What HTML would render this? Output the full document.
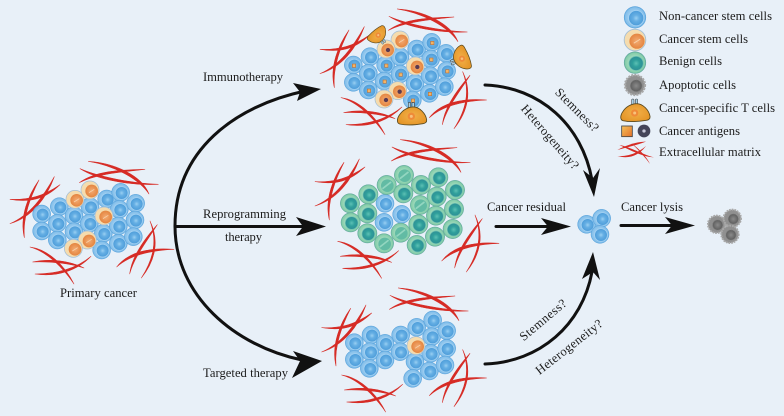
<!DOCTYPE html>
<html><head><meta charset="utf-8"><style>
html,body{margin:0;padding:0;background:#e8f0f8}
svg{display:block;filter:blur(.3px)}
text{font-family:"Liberation Serif",serif;font-size:12.6px;fill:#1c1c1c}
</style></head><body>
<svg width="784" height="416" viewBox="0 0 784 416" xmlns="http://www.w3.org/2000/svg">
<defs>
<radialGradient id="gb" cx=".5" cy=".5" r=".5"><stop offset=".5" stop-color="#a3d0f1"/><stop offset=".9" stop-color="#84bfea"/><stop offset="1" stop-color="#5fa9e0"/></radialGradient>
<radialGradient id="gbi" cx=".5" cy=".5" r=".5"><stop offset="0" stop-color="#9ad0f2"/><stop offset=".4" stop-color="#66afe4"/><stop offset="1" stop-color="#4c9cd9"/></radialGradient>
<radialGradient id="gg" cx=".5" cy=".5" r=".5"><stop offset=".5" stop-color="#a5dcbf"/><stop offset=".9" stop-color="#85cdaa"/><stop offset="1" stop-color="#5fb096"/></radialGradient>
<radialGradient id="ggi" cx=".5" cy=".5" r=".5"><stop offset="0" stop-color="#5cc0b4"/><stop offset=".5" stop-color="#2f9f9b"/><stop offset="1" stop-color="#2f8f96"/></radialGradient>
<radialGradient id="go" cx=".5" cy=".5" r=".5"><stop offset="0" stop-color="#f3ab72"/><stop offset="1" stop-color="#e48540"/></radialGradient>
<radialGradient id="gy" cx=".5" cy=".5" r=".5"><stop offset="0" stop-color="#8a8a8a"/><stop offset="1" stop-color="#5e5e5e"/></radialGradient>
<radialGradient id="gt" cx=".5" cy=".5" r=".6"><stop offset="0" stop-color="#f2b04a"/><stop offset="1" stop-color="#e39324"/></radialGradient>
<linearGradient id="gsq" x1="0" y1="0" x2="1" y2="1"><stop offset="0" stop-color="#f6c35a"/><stop offset="1" stop-color="#e2702a"/></linearGradient>

<g id="b"><circle r="27" fill="url(#gb)" stroke="#5aa3db" stroke-width="1.5"/><circle cx="3" cy="2" r="19" fill="url(#gbi)" stroke="#a4d2f3" stroke-width="2"/></g>
<g id="bs"><use href="#b"/><rect x="-3" y="-3" width="10" height="10" fill="#f2b465" stroke="#b8652a" stroke-width="1.6"/></g>
<g id="g"><circle r="29" fill="url(#gg)" stroke="#63a8a0" stroke-width="1.5"/><circle cx="3" cy="2" r="19" fill="url(#ggi)" stroke="#6cc0b0" stroke-width="2"/></g>
<g id="gs"><circle r="29" fill="url(#gg)" stroke="#63a8a0" stroke-width="1.5"/><circle cx="2" cy="2" r="19" fill="#62bba4"/><path d="M-11,10 L12,-8" stroke="#93d6c0" stroke-width="5" stroke-linecap="round"/></g>
<g id="c"><circle r="27" fill="#f5dcae" stroke="#a3bed6" stroke-width="2.2"/><circle cx="5" cy="3" r="19" fill="url(#go)"/><path d="M-3,8 L13,-2" stroke="#f8d0a8" stroke-width="2.5"/></g>
<g id="cd"><circle r="27" fill="#f5dcae" stroke="#a3bed6" stroke-width="2.2"/><circle cx="5" cy="3" r="19" fill="url(#go)"/><circle cx="6" cy="3" r="6.5" fill="#5a3a50"/></g>
<g id="a"><circle r="26" fill="#909090" stroke="#a8a8a8" stroke-width="6" stroke-dasharray="5 3"/><circle cx="3" cy="2" r="15" fill="url(#gy)" stroke="#777" stroke-width="2" stroke-dasharray="3 2"/></g>
<g id="t"><rect x="-10" y="-40" width="7" height="20" rx="3" fill="#a8d0e4" stroke="#333" stroke-width="1.6"/><rect x="1" y="-40" width="7" height="20" rx="3" fill="#a8d0e4" stroke="#333" stroke-width="1.6"/><path d="M-36,25 C-46,22 -44,8 -36,-3 C-26,-18 -10,-26 5,-26 C24,-26 42,-6 45,12 C46,20 40,23 34,24 C10,28 -18,29 -36,25Z" fill="url(#gt)" stroke="#5a4a20" stroke-width="2.6"/><circle cx="-1" cy="2" r="11" fill="#ef8a38"/><circle cx="-1" cy="2" r="4.5" fill="#f7c27c"/></g>

<g id="mt" fill="#d62b25" stroke="#d62b25" stroke-width="1.6" stroke-linejoin="round"><path d="M238,128 C290,90 370,90 435,88 C370,96 295,100 238,128Z"/><path d="M265,64 C340,68 425,105 447,162 C415,115 340,76 265,64Z"/><path d="M240,86 C300,112 400,130 475,133 C400,137 295,122 240,86Z"/></g>
<g id="ml" fill="#d62b25" stroke="#d62b25" stroke-width="1.6" stroke-linejoin="round"><path d="M117,120 C85,165 58,230 73,293 C68,230 92,170 117,120Z"/><path d="M30,178 C90,180 130,168 180,134 C135,178 90,188 30,178Z"/><path d="M30,251 C90,225 130,170 163,110 C140,175 95,232 30,251Z"/></g>
<g id="mb" fill="#d62b25" stroke="#d62b25" stroke-width="1.6" stroke-linejoin="round"><path d="M90,321 C145,328 195,378 222,432 C190,385 142,335 90,321Z"/><path d="M98,366 C150,355 210,362 252,384 C210,370 150,364 98,366Z"/><path d="M105,402 C170,402 230,385 273,349 C232,392 170,412 105,402Z"/></g>
<g id="mr" fill="#d62b25" stroke="#d62b25" stroke-width="1.6" stroke-linejoin="round"><path d="M350,381 C385,335 450,322 522,328 C450,331 390,345 350,381Z"/><path d="M389,402 C395,350 435,295 472,254 C440,305 402,352 389,402Z"/><path d="M424,414 C462,355 472,300 450,243 C478,300 468,360 424,414Z"/></g>
</defs>

<rect width="784" height="416" fill="#e8f0f8"/>

<g transform="translate(0,140) scale(.3333)">
<use href="#mt"/><use href="#ml"/><use href="#mb"/><use href="#mr"/>
<use href="#b" x="125" y="222"/><use href="#b" x="125" y="273"/><use href="#b" x="178" y="200"/><use href="#b" x="172" y="250"/><use href="#b" x="172" y="300"/><use href="#b" x="222" y="227"/><use href="#b" x="222" y="275"/><use href="#b" x="270" y="200"/><use href="#b" x="268" y="250"/><use href="#b" x="320" y="177"/><use href="#b" x="310" y="280"/><use href="#b" x="362" y="157"/><use href="#b" x="358" y="208"/><use href="#b" x="355" y="258"/><use href="#b" x="355" y="310"/><use href="#b" x="407" y="190"/><use href="#b" x="405" y="240"/><use href="#b" x="400" y="290"/><use href="#b" x="305" y="330"/>
<use href="#c" x="225" y="178"/><use href="#c" x="270" y="150"/><use href="#c" x="312" y="228"/><use href="#c" x="262" y="300"/><use href="#c" x="220" y="325"/>
</g>

<g transform="translate(310,0) scale(.3333)">
<use href="#mt" x="-3" y="-37"/><use href="#ml" y="-30"/><use href="#mb" x="3" y="-28"/><use href="#mr" x="8" y="-28"/>
<use href="#bs" x="130" y="195"/><use href="#b" x="130" y="247"/><use href="#b" x="180" y="170"/><use href="#b" x="175" y="220"/><use href="#bs" x="175" y="270"/><use href="#bs" x="227" y="195"/><use href="#bs" x="222" y="243"/><use href="#b" x="270" y="170"/><use href="#bs" x="270" y="222"/><use href="#b" x="320" y="147"/><use href="#b" x="315" y="250"/><use href="#bs" x="365" y="127"/><use href="#bs" x="362" y="177"/><use href="#b" x="360" y="227"/><use href="#bs" x="358" y="280"/><use href="#b" x="408" y="160"/><use href="#bs" x="410" y="212"/><use href="#b" x="403" y="260"/><use href="#bs" x="307" y="300"/>
<use href="#c" x="270" y="120"/><use href="#cd" x="228" y="147"/><use href="#cd" x="316" y="198"/><use href="#cd" x="263" y="272"/><use href="#cd" x="222" y="297"/>
<g transform="translate(205,107) rotate(143) scale(.72)"><use href="#t"/></g>
<g transform="translate(454,176) rotate(-110) scale(.85)"><use href="#t"/></g>
<g transform="translate(305,347)"><use href="#t"/></g>
</g>

<g transform="translate(310,135) scale(.3333)">
<use href="#mt" x="6" y="-50"/><use href="#ml" x="-15" y="-38"/><use href="#mb" x="-7" y="-2"/><use href="#mr" x="45" y="-3"/>
<use href="#b" x="225" y="205"/><use href="#b" x="275" y="238"/><use href="#b" x="222" y="262"/>
<use href="#g" x="120" y="205"/><use href="#g" x="122" y="262"/><use href="#g" x="175" y="178"/><use href="#g" x="172" y="235"/><use href="#g" x="172" y="295"/><use href="#gs" x="230" y="150"/><use href="#g" x="280" y="175"/><use href="#gs" x="282" y="120"/><use href="#g" x="333" y="150"/><use href="#g" x="385" y="127"/><use href="#g" x="380" y="185"/><use href="#gs" x="330" y="210"/><use href="#g" x="435" y="165"/><use href="#g" x="432" y="222"/><use href="#g" x="378" y="242"/><use href="#g" x="428" y="282"/><use href="#g" x="325" y="268"/><use href="#g" x="375" y="305"/><use href="#g" x="320" y="330"/><use href="#gs" x="272" y="293"/><use href="#gs" x="222" y="325"/>
</g>

<g transform="translate(310,285) scale(.3333)">
<use href="#mt" y="-55"/><use href="#ml" x="5" y="-50"/><use href="#mb" x="5" y="-51"/><use href="#mr" x="8" y="-49"/>
<use href="#b" x="133" y="173"/><use href="#b" x="133" y="223"/><use href="#b" x="183" y="150"/><use href="#b" x="180" y="200"/><use href="#b" x="178" y="250"/><use href="#b" x="225" y="175"/><use href="#b" x="225" y="225"/><use href="#b" x="272" y="150"/><use href="#b" x="270" y="200"/><use href="#b" x="320" y="127"/><use href="#b" x="315" y="230"/><use href="#b" x="368" y="105"/><use href="#b" x="365" y="155"/><use href="#b" x="362" y="205"/><use href="#b" x="358" y="258"/><use href="#b" x="410" y="137"/><use href="#b" x="410" y="190"/><use href="#b" x="405" y="240"/><use href="#b" x="308" y="280"/>
<use href="#c" x="318" y="182"/>
</g>

<g fill="none" stroke="#111" stroke-width="3" stroke-linecap="round">
<path d="M175,226 C175,150 235,106 305,91"/>
<path d="M175,226 C175,296 235,346 302,360"/>
<path d="M175,226.5 L310,226.5"/>
<path d="M485,85 C540,87 582,125 592,180"/>
<path d="M485,364 C540,362 582,325 592,272"/>
<path d="M496,226.5 L555,226.5"/>
<path d="M621,225.5 L680,225.5"/>
</g>
<g fill="#111">
<path d="M321,89 L293,83 L300,92 L297,101Z"/>
<path d="M326,226.5 L296,217 L303,226.5 L296,236Z"/>
<path d="M322,361 L293,351 L300,361 L292,378Z"/>
<path d="M594,197 L583,170 L593,178 L600,168Z"/>
<path d="M593,252 L582,279 L593,272 L600,280Z"/>
<path d="M571,226.5 L541,218 L548,226.5 L541,235Z"/>
<path d="M695,225.5 L665,217 L672,225.5 L665,234Z"/>
</g>

<g transform="translate(480,80) scale(.3333)">
<use href="#b" x="320" y="433"/><use href="#b" x="365" y="415"/><use href="#b" x="360" y="463"/>
<use href="#a" x="710" y="433"/><use href="#a" x="757" y="415"/><use href="#a" x="750" y="463"/>
</g>

<g transform="translate(620,0) scale(.3333)">
<g transform="translate(45,52) scale(1.2)"><use href="#b"/></g>
<g transform="translate(45,120) scale(1.2)"><use href="#c"/></g>
<g transform="translate(45,188) scale(1.12)"><use href="#g"/></g>
<g transform="translate(45,255) scale(1.15)"><use href="#a"/></g>
<g transform="translate(45,337)"><use href="#t"/></g>
<rect x="5" y="378" width="32" height="32" fill="url(#gsq)" stroke="#444" stroke-width="2.5"/>
<circle cx="72" cy="393" r="19" fill="#454558"/><circle cx="72" cy="393" r="5" fill="#c8c8d8"/>
<g fill="#d62b25"><path d="M-8,450 C30,430 60,425 78,425 C60,432 30,440 -8,450Z"/><path d="M-2,435 C30,440 70,465 102,472 C70,472 30,450 -2,435Z"/><path d="M-8,468 C20,470 50,462 78,438 C55,468 25,478 -8,468Z"/><path d="M35,430 C55,445 80,470 90,492 C75,472 55,450 35,430Z"/></g>
</g>

<text x="203" y="81" textLength="80">Immunotherapy</text>
<text x="203" y="218" textLength="83">Reprogramming</text>
<text x="225" y="241" textLength="37">therapy</text>
<text x="203" y="377" textLength="85">Targeted therapy</text>
<text x="60" y="297" textLength="77">Primary cancer</text>
<text x="487" y="211" textLength="79">Cancer residual</text>
<text x="621" y="211" textLength="62">Cancer lysis</text>
<text x="577" y="114" text-anchor="middle" textLength="56" transform="rotate(45 577 110)">Stemness?</text>
<text x="550" y="141" text-anchor="middle" textLength="81" transform="rotate(49 550 137)">Heterogeneity?</text>
<text x="543" y="324" text-anchor="middle" textLength="57" transform="rotate(-40 543 320)">Stemness?</text>
<text x="569" y="351" text-anchor="middle" textLength="81" transform="rotate(-38 569 347)">Heterogeneity?</text>

<text x="659" y="20" textLength="113">Non-cancer stem cells</text>
<text x="659" y="43" textLength="89">Cancer stem cells</text>
<text x="659" y="65" textLength="63">Benign cells</text>
<text x="659" y="89" textLength="77">Apoptotic cells</text>
<text x="659" y="112" textLength="116">Cancer-specific T cells</text>
<text x="659" y="135" textLength="81">Cancer antigens</text>
<text x="659" y="156" textLength="102">Extracellular matrix</text>
</svg>
</body></html>
